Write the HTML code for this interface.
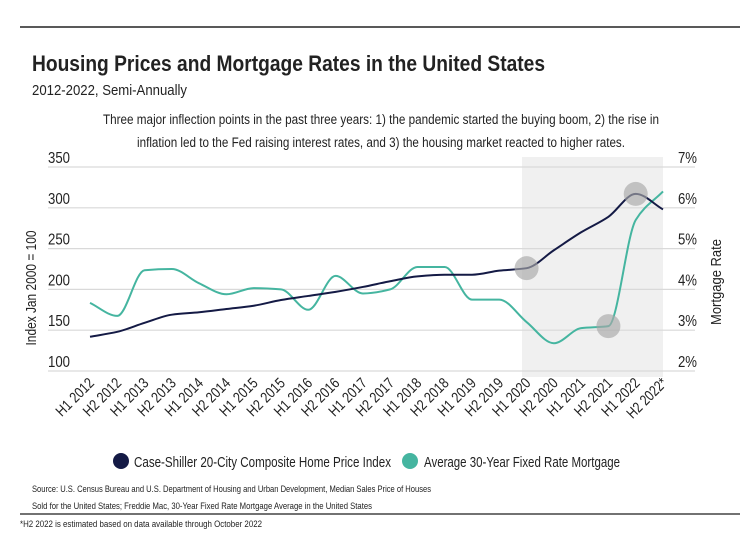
<!DOCTYPE html>
<html><head><meta charset="utf-8"><style>
html,body{margin:0;padding:0;background:#fff;}
svg{display:block;font-family:"Liberation Sans Narrow","Liberation Sans",sans-serif;}
</style></head><body>
<svg id="chart" width="740" height="533" viewBox="0 0 740 533">
<line x1="20" y1="27" x2="740" y2="27" stroke="#222" stroke-width="1.5"/>
<text x="32" y="71" font-size="22" font-weight="bold" fill="#222" textLength="513" lengthAdjust="spacingAndGlyphs">Housing Prices and Mortgage Rates in the United States</text>
<text x="32" y="95" font-size="15" fill="#222" textLength="155" lengthAdjust="spacingAndGlyphs">2012-2022, Semi-Annually</text>
<text x="103" y="124" font-size="13.5" fill="#222" textLength="556" lengthAdjust="spacingAndGlyphs">Three major inflection points in the past three years: 1) the pandemic started the buying boom, 2) the rise in</text>
<text x="137" y="147" font-size="13.5" fill="#222" textLength="488" lengthAdjust="spacingAndGlyphs">inflation led to the Fed raising interest rates, and 3) the housing market reacted to higher rates.</text>
<rect x="522" y="157" width="141" height="220" fill="#f0f0f0"/>
<g id="grid"></g>
<g id="xlabels"></g>
<g id="lines"></g>
<text transform="translate(36,288) rotate(-90)" text-anchor="middle" font-size="15" fill="#222" textLength="115" lengthAdjust="spacingAndGlyphs">Index Jan 2000 = 100</text>
<text transform="translate(721,282) rotate(-90)" text-anchor="middle" font-size="15" fill="#222" textLength="86" lengthAdjust="spacingAndGlyphs">Mortgage Rate</text>
<circle cx="121" cy="461" r="8" fill="#141a45"/>
<text x="134" y="467" font-size="15" fill="#222" textLength="257" lengthAdjust="spacingAndGlyphs">Case-Shiller 20-City Composite Home Price Index</text>
<circle cx="410" cy="461" r="8" fill="#45b5a0"/>
<text x="424" y="467" font-size="15" fill="#222" textLength="196" lengthAdjust="spacingAndGlyphs">Average 30-Year Fixed Rate Mortgage</text>
<text x="32" y="492" font-size="9.5" fill="#222" textLength="399" lengthAdjust="spacingAndGlyphs">Source:  U.S. Census Bureau and U.S. Department of Housing and Urban Development, Median Sales Price of Houses</text>
<text x="32" y="509" font-size="9.5" fill="#222" textLength="340" lengthAdjust="spacingAndGlyphs">Sold for the United States; Freddie Mac, 30-Year Fixed Rate Mortgage Average in the United States</text>
<line x1="20" y1="514" x2="740" y2="514" stroke="#444" stroke-width="1.5"/>
<text x="20" y="527" font-size="9" fill="#222" textLength="242" lengthAdjust="spacingAndGlyphs">*H2 2022 is estimated based on data available through October 2022</text>
</svg>
<script>
const categories = ["H1 2012","H2 2012","H1 2013","H2 2013","H1 2014","H2 2014","H1 2015","H2 2015","H1 2016","H2 2016","H1 2017","H2 2017","H1 2018","H2 2018","H1 2019","H2 2019","H1 2020","H2 2020","H1 2021","H2 2021","H1 2022","H2 2022*"];
const indexValues = [142,148,159,169,172,176,180,187,192,197,203,210,216,218,218,223,226,248,270,289,317,298];
const mortgageValues = [3.67,3.35,4.47,4.5,4.15,3.88,4.03,4.0,3.5,4.33,3.9,4.0,4.55,4.55,3.75,3.75,3.2,2.68,3.05,3.1,5.7,6.4];
const leftTicks = [100,150,200,250,300,350];
const rightTicks = ["2%","3%","4%","5%","6%","7%"];
const rightTickValues = [2,3,4,5,6,7];
const highlightPoints = [{series:"index",i:16},{series:"mortgage",i:19},{series:"index",i:20}];

const NS = "http://www.w3.org/2000/svg";
const xL = 90, xR = 663, yTop = 167, yBot = 371;
function x(i){ return xL + i*(xR-xL)/(categories.length-1); }
function yLeft(v){ return yBot - (v-100)/250*(yBot-yTop); }
function yRight(v){ return yBot - (v-2)/5*(yBot-yTop); }
function mk(tag, attrs, parent){ const e=document.createElementNS(NS,tag); for(const k in attrs) e.setAttribute(k,attrs[k]); parent.appendChild(e); return e; }

const grid = document.getElementById('grid');
leftTicks.forEach((t,k)=>{
  const y = yLeft(t);
  const l = mk('line',{x1:48,x2:695,y1:y,y2:y,stroke:'#d9d9d9','stroke-width':1.2},grid);
  
  
  const tx = mk('text',{x:48,y:y-4,'font-size':16,fill:'#222',textLength:22,lengthAdjust:'spacingAndGlyphs'},grid);
  tx.textContent = t;
  
  
});
rightTickValues.forEach((t,k)=>{
  const tx = mk('text',{x:678,y:yRight(t)-4,'font-size':16,fill:'#222',textLength:19,lengthAdjust:'spacingAndGlyphs'},grid);
  tx.textContent = rightTicks[k];
  
  
});

const xl = document.getElementById('xlabels');
categories.forEach((c,i)=>{
  const tx = mk('text',{transform:`translate(${x(i)+5},384) rotate(-45)`,'text-anchor':'end','font-size':15,fill:'#222',textLength:c.length>7?50:47,lengthAdjust:'spacingAndGlyphs'},xl);
  tx.textContent = c;
  
  
});

function smooth(pts){
  const n = pts.length, d=[], m=new Array(n);
  for(let i=0;i<n-1;i++) d.push((pts[i+1][1]-pts[i][1])/(pts[i+1][0]-pts[i][0]));
  m[0]=d[0]; m[n-1]=d[n-2];
  for(let i=1;i<n-1;i++){ m[i] = (d[i-1]*d[i]<=0) ? 0 : (2*d[i-1]*d[i])/(d[i-1]+d[i]); }
  let s = `M${pts[0][0]},${pts[0][1]}`;
  for(let i=0;i<n-1;i++){
    const h=(pts[i+1][0]-pts[i][0])/3;
    s += ` C${pts[i][0]+h},${pts[i][1]+m[i]*h} ${pts[i+1][0]-h},${pts[i+1][1]-m[i+1]*h} ${pts[i+1][0]},${pts[i+1][1]}`;
  }
  return s;
}
const lines = document.getElementById('lines');
const mp = mk('path',{d:smooth(mortgageValues.map((v,i)=>[x(i),yRight(v)])),fill:'none',stroke:'#45b5a0','stroke-width':2},lines);


const ip = mk('path',{d:smooth(indexValues.map((v,i)=>[x(i),yLeft(v)])),fill:'none',stroke:'#141a45','stroke-width':2},lines);


highlightPoints.forEach(h=>{
  const cy = h.series==="index" ? yLeft(indexValues[h.i]) : yRight(mortgageValues[h.i]);
  const c = mk('circle',{cx:x(h.i),cy:cy,r:12,fill:'#a8a8a8','fill-opacity':0.65},lines);
  
  
});
</script>
</body></html>
